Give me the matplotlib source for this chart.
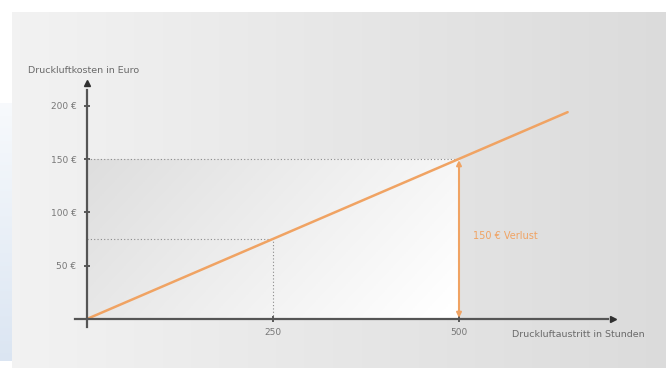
import numpy as np
import matplotlib.pyplot as plt

plt.rcParams['font.family'] = 'DejaVu Sans'

# Werte aus der Grafik
stunden = [0, 646]            # Druckluftaustritt in Stunden
kosten = [0, 194]             # Druckluftkosten in Euro (0,30 € pro Stunde)
y_ticks = [50, 100, 150, 200]
y_tick_labels = ['50 €', '100 €', '150 €', '200 €']
x_ticks = [250, 500]
x_tick_labels = ['250', '500']
punkt_250 = (250, 75)
punkt_500 = (500, 150)
verlust_text = '150 € Verlust'

orange = '#f0a363'
achse = '#555555'

fig = plt.figure(figsize=(6.66, 3.68), dpi=100)
fig.patch.set_facecolor('white')
ax = fig.add_axes([0, 0, 1, 1])
ax.set_xlim(-116.9, 778.2)
ax.set_ylim(-46.0, 299.2)
ax.set_facecolor('none')

# Hintergrund: grauer Verlauf
grad = np.linspace(0.95, 0.86, 256).reshape(1, -1)
ax.imshow(np.dstack([grad, grad, grad]), extent=(0.018, 1, 0, 0.967),
          transform=ax.transAxes, aspect='auto', zorder=0)
# blauer Streifen links (oben heller, unten kräftiger)
s = np.linspace(0, 1, 100).reshape(-1, 1)
blau = np.dstack([0.97 - 0.11 * s, 0.98 - 0.08 * s, 0.99 - 0.04 * s])
ax.imshow(blau, extent=(0, 0.018, 0.02, 0.72), transform=ax.transAxes,
          aspect='auto', zorder=0)

# heller Verlauf im Rechteck unter 150 € / 500 h (oben links dunkel, unten rechts hell)
gx, gy = np.meshgrid(np.linspace(0, 1, 200), np.linspace(0, 1, 100))
t = np.clip(0.75 * gx + 0.3 * gy, 0, 1)
v = 0.87 + 0.13 * t
ax.imshow(np.dstack([v, v, v]), extent=(0, punkt_500[0], 0, punkt_500[1]),
          aspect='auto', zorder=1)

# gepunktete Hilfslinien
dot = dict(color='#8a8a8a', linestyle=(0, (1, 2)), linewidth=0.8, zorder=2)
ax.plot([0, punkt_500[0]], [punkt_500[1], punkt_500[1]], **dot)
ax.plot([0, punkt_250[0]], [punkt_250[1], punkt_250[1]], **dot)
ax.plot([punkt_250[0], punkt_250[0]], [0, punkt_250[1]], **dot)

# Kostenlinie
ax.plot(stunden, kosten, color=orange, linewidth=1.8, zorder=4,
        solid_capstyle='round')

# Verlust-Pfeil
ax.annotate('', xy=(punkt_500[0], 1), xytext=(punkt_500[0], punkt_500[1] - 1),
            arrowprops=dict(arrowstyle='<|-|>', color=orange, lw=1.5,
                            mutation_scale=7, shrinkA=0, shrinkB=0), zorder=5)
ax.text(519, 78, verlust_text, color=orange, fontsize=7, va='center',
        ha='left', zorder=5)

# Achsen
for sp in ['top', 'right']:
    ax.spines[sp].set_visible(False)
ax.spines['left'].set_position(('data', 0))
ax.spines['bottom'].set_position(('data', 0))
ax.spines['left'].set_bounds(-8, 215)
ax.spines['bottom'].set_bounds(-16, 700)
for sp in ['left', 'bottom']:
    ax.spines[sp].set_color(achse)
    ax.spines[sp].set_linewidth(1.6)
    ax.spines[sp].set_zorder(6)
ax.plot(0, 221, '^', color='#303030', markersize=5, zorder=7, clip_on=False)
ax.plot(707, 0, '>', color='#303030', markersize=5, zorder=7, clip_on=False)

ax.set_yticks(y_ticks)
ax.set_yticklabels(y_tick_labels)
ax.set_xticks(x_ticks)
ax.set_xticklabels(x_tick_labels)
ax.tick_params(axis='both', direction='inout', length=5, width=1.2,
               color='#404040', labelsize=6.5, labelcolor='#777777')
ax.tick_params(axis='y', pad=5)
ax.tick_params(axis='x', pad=4)

ax.text(-79, 233, 'Druckluftkosten in Euro', fontsize=6.8, color='#6a6a6a',
        va='center', ha='left')
ax.text(571, -15, 'Druckluftaustritt in Stunden', fontsize=6.8,
        color='#6a6a6a', va='center', ha='left')

fig.savefig('out.png', dpi=100)
